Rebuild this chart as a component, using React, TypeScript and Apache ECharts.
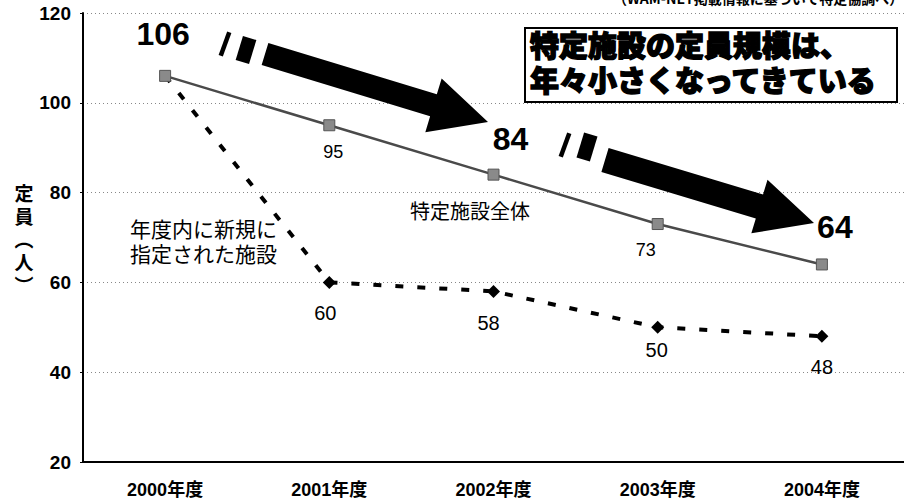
import React, { useEffect, useRef } from 'react';
import * as echarts from 'echarts';

const categories = ['2000年度', '2001年度', '2002年度', '2003年度', '2004年度'];
const yMin = 20;
const yMax = 120;
const yInterval = 20;
const totalValues = [106, 95, 84, 73, 64];
const newValues = [106, 60, 58, 50, 48];

const totalLabelOffsets = [[-2, -42], [4, 27], [17, -36], [-12, 26], [13, -37]];
const totalLabelBig = [true, false, true, false, true];
const newLabelOffsets = [[0, 0], [-4, 31], [-5, 32], [-1, 23], [0, 31]];

const LATIN = "'Liberation Sans', Arial, 'Noto Sans CJK JP', sans-serif";
const CJK = "'Noto Sans CJK JP', 'Liberation Sans', sans-serif";

type P = [number, number];

function arrowPts(tail: P, tip: P, h: number, H: number, Lh: number): P[] {
  const dx = tip[0] - tail[0];
  const dy = tip[1] - tail[1];
  const L = Math.hypot(dx, dy);
  const u: P = [dx / L, dy / L];
  const n: P = [-u[1], u[0]];
  const base: P = [tip[0] - u[0] * Lh, tip[1] - u[1] * Lh];
  const at = (p: P, k: number): P => [p[0] + n[0] * k, p[1] + n[1] * k];
  return [at(tail, -h), at(base, -h), at(base, -H), tip, at(base, H), at(base, h), at(tail, h)];
}

function barPts(c: P, angleDeg: number, w: number, l: number): P[] {
  const a = (angleDeg * Math.PI) / 180;
  const u: P = [Math.cos(a), Math.sin(a)];
  const n: P = [-u[1], u[0]];
  const pts: P[] = [];
  const corners = [[-1, -1], [1, -1], [1, 1], [-1, 1]];
  for (const [su, sn] of corners) {
    pts.push([c[0] + (u[0] * w * su) / 2 + (n[0] * l * sn) / 2, c[1] + (u[1] * w * su) / 2 + (n[1] * l * sn) / 2]);
  }
  return pts;
}

export default function App() {
  const ref = useRef<HTMLDivElement>(null);

  useEffect(() => {
    if (!ref.current) return;
    const chart = echarts.init(ref.current, undefined, { renderer: 'svg' });

    const totalData = totalValues.map((v, i) => ({
      value: v,
      label: {
        show: true,
        position: 'inside',
        offset: totalLabelOffsets[i],
        fontSize: totalLabelBig[i] ? 32 : 18,
        fontWeight: totalLabelBig[i] ? 'bold' : 'normal',
        color: '#000',
        fontFamily: LATIN,
      },
    }));

    const newData = newValues.map((v, i) =>
      i === 0
        ? { value: v, symbol: 'none', label: { show: false } }
        : {
            value: v,
            label: {
              show: true,
              position: 'inside',
              offset: newLabelOffsets[i],
              fontSize: 20,
              color: '#000',
              fontFamily: LATIN,
            },
          }
    );

    const a1 = arrowPts([265, 54], [488, 122], 11.5, 28, 57);
    const a2 = arrowPts([605, 160], [814, 223], 12.5, 28, 57);

    chart.setOption({
      animation: false,
      backgroundColor: '#fff',
      grid: { left: 83, top: 13, bottom: 40, width: 830, containLabel: false },
      xAxis: {
        type: 'category',
        data: categories,
        boundaryGap: true,
        axisLine: { lineStyle: { color: '#000', width: 2 } },
        axisTick: { inside: true, length: 7, lineStyle: { color: '#000', width: 1 } },
        axisLabel: {
          color: '#000',
          fontSize: 18,
          fontWeight: 'bold',
          fontFamily: LATIN,
          margin: 19,
        },
      },
      yAxis: {
        type: 'value',
        min: yMin,
        max: yMax,
        interval: yInterval,
        axisLine: { show: true, lineStyle: { color: '#000', width: 2 } },
        axisTick: { show: true, length: 3, lineStyle: { color: '#000' } },
        axisLabel: {
          color: '#000',
          fontSize: 19,
          fontWeight: 'bold',
          fontFamily: LATIN,
          margin: 12,
        },
        splitLine: { show: true, lineStyle: { color: '#888', type: [1, 3], width: 1 } },
      },
      series: [
        {
          name: '特定施設全体',
          type: 'line',
          data: totalData,
          symbol: 'rect',
          symbolSize: 11,
          itemStyle: { color: '#8a8a8a', borderColor: '#555', borderWidth: 1 },
          lineStyle: { color: '#4a4a4a', width: 2.5 },
          z: 3,
        },
        {
          name: '年度内に新規に指定された施設',
          type: 'line',
          data: newData,
          symbol: 'diamond',
          symbolSize: 13,
          itemStyle: { color: '#000' },
          lineStyle: { color: '#000', width: 4, type: [8, 14] },
          z: 2,
        },
      ],
      graphic: [
        {
          type: 'text',
          x: 613,
          y: 5,
          style: {
            text: '（WAM-NET掲載情報に基づいて特定協調べ）',
            fontSize: 14,
            fontWeight: 'bold',
            fontFamily: CJK,
            fill: '#000',
            verticalAlign: 'bottom',
          },
          z: 10,
        },
        {
          type: 'text',
          x: 24,
          y: 238,
          style: {
            text: '定\n員\n︵\n人\n︶',
            fontSize: 19,
            fontWeight: 'bold',
            fontFamily: CJK,
            lineHeight: 23,
            fill: '#000',
            align: 'center',
            verticalAlign: 'middle',
          },
          z: 10,
        },
        { type: 'polygon', shape: { points: a1 }, style: { fill: '#000' }, z: 10 },
        { type: 'polygon', shape: { points: a2 }, style: { fill: '#000' }, z: 10 },
        { type: 'polygon', shape: { points: barPts([225, 44], 20, 4.5, 25) }, style: { fill: '#000' }, z: 10 },
        { type: 'polygon', shape: { points: barPts([246, 50], 17, 14, 25) }, style: { fill: '#000' }, z: 10 },
        { type: 'polygon', shape: { points: barPts([565, 145], 20, 4.5, 25) }, style: { fill: '#000' }, z: 10 },
        { type: 'polygon', shape: { points: barPts([587, 147], 17, 14, 26) }, style: { fill: '#000' }, z: 10 },
        {
          type: 'rect',
          shape: { x: 525, y: 28, width: 372, height: 74 },
          style: { fill: '#fff', stroke: '#000', lineWidth: 2 },
          z: 10,
        },
        {
          type: 'text',
          x: 530,
          y: 26,
          style: {
            text: '特定施設の定員規模は、\n年々小さくなってきている',
            fontSize: 29,
            fontWeight: 900,
            fontFamily: CJK,
            lineHeight: 35,
            fill: '#000',
            stroke: '#000',
            lineWidth: 1.4,
          },
          z: 11,
        },
        {
          type: 'text',
          x: 410,
          y: 210,
          style: {
            text: '特定施設全体',
            fontSize: 20,
            fontFamily: CJK,
            fill: '#000',
            verticalAlign: 'middle',
          },
          z: 10,
        },
        {
          type: 'text',
          x: 130,
          y: 215,
          style: {
            text: '年度内に新規に\n指定された施設',
            fontSize: 21,
            fontFamily: CJK,
            lineHeight: 25,
            fill: '#000',
          },
          z: 10,
        },
      ],
    });

    return () => chart.dispose();
  }, []);

  return <div ref={ref} style={{ position: 'fixed', left: 0, top: 0, width: 904, height: 502 }} />;
}
